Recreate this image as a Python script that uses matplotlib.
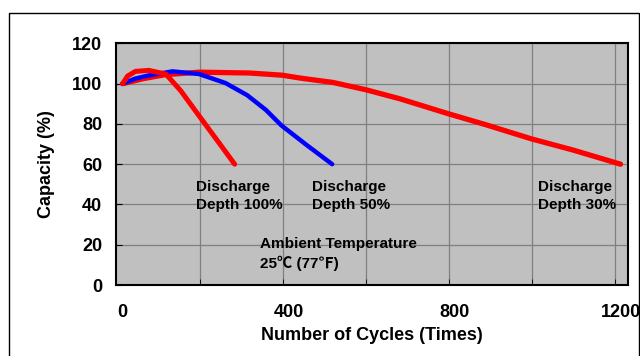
import numpy as np
import matplotlib
matplotlib.use("Agg")
import matplotlib.pyplot as plt
from matplotlib.patches import Rectangle

plt.rcParams['font.family'] = ['Liberation Sans', 'Noto Sans CJK SC', 'DejaVu Sans']
plt.rcParams['font.weight'] = 'bold'

# Datos (ciclos, capacidad %)
dod100_x = [0, 12, 31, 63, 104, 140, 184, 228, 270]
dod100_y = [100, 103.8, 106.1, 106.6, 104.8, 96.5, 84.1, 71.8, 60]

dod50_x = [0, 30, 63, 120, 184, 248, 300, 345, 383, 443, 505]
dod50_y = [100, 102.5, 104.1, 106.1, 104.8, 100.3, 94.3, 87, 79.2, 69.6, 60]

dod30_x = [0, 50, 104, 184, 305, 385, 427, 507, 586, 668, 786, 877, 985, 1086, 1200]
dod30_y = [100, 102.5, 104.5, 105.7, 105.3, 104.2, 102.8, 100.6, 97.0, 92.5, 85.0, 79.5, 72.6, 67.0, 60]

x_ticks = [0, 400, 800, 1200]
y_ticks = [0, 20, 40, 60, 80, 100, 120]

labels = ["Discharge\nDepth 100%", "Discharge\nDepth 50%", "Discharge\nDepth 30%"]
label_x = [178, 456, 1001]
label_y = 52
temp_label = "Ambient Temperature\n25\u2103 (77\u2109)"

fig = plt.figure(figsize=(6.4, 3.56), dpi=100)
ax = fig.add_axes([116 / 640, 71 / 356, 512 / 640, 241.6 / 356])
ax.set_facecolor('#c0c0c0')

ax.plot(dod30_x, dod30_y, color='#ff0000', lw=3.8, solid_capstyle='round',
        solid_joinstyle='round', zorder=3)
ax.plot(dod50_x, dod50_y, color='#0000ff', lw=3.2, solid_capstyle='round',
        solid_joinstyle='round', zorder=4)
ax.plot(dod100_x, dod100_y, color='#ff0000', lw=3.6, solid_capstyle='round',
        solid_joinstyle='round', zorder=5)

ax.set_xlim(-16, 1218)
ax.set_ylim(0, 120)
ax.set_xticks(x_ticks)
ax.set_xticks(np.arange(186, 1218, 200), minor=True)
ax.set_yticks(y_ticks)
ax.tick_params(axis='x', which='major', length=0, pad=14, labelsize=13)
ax.tick_params(axis='x', which='minor', direction='in', length=4, color='black')
ax.tick_params(axis='y', direction='in', length=4, pad=10, labelsize=13)
ax.grid(True, which='minor', axis='x', color='#808080', lw=0.9)
ax.grid(True, which='major', axis='y', color='#808080', lw=0.9)
ax.set_axisbelow(True)
for s in ax.spines.values():
    s.set_linewidth(1.5)

ax.set_xlabel('Number of Cycles (Times)', fontsize=13, fontweight='bold', labelpad=4)
ax.set_ylabel('Capacity (%)', fontsize=13, fontweight='bold', labelpad=12)

for t, x in zip(labels, label_x):
    ax.text(x, label_y, t, fontsize=11, fontweight='bold', va='top', ha='left',
            linespacing=1.3, zorder=6)
ax.text(330, 24, temp_label, fontsize=11, fontweight='bold', va='top', ha='left',
        linespacing=1.4, zorder=6)

# marco exterior
fig.patches.append(Rectangle((9 / 640, -0.1), 629.5 / 640, 1.1 - 12.7 / 356,
                             transform=fig.transFigure, fill=False,
                             edgecolor='black', lw=1.0))

fig.savefig('out.png', dpi=100)
